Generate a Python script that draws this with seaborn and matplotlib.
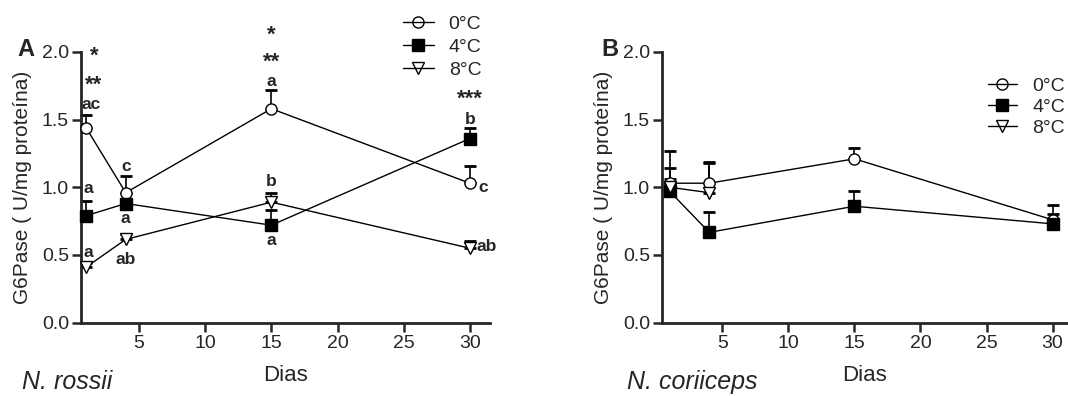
import numpy as np
import pandas as pd
import matplotlib
matplotlib.use("Agg")
import matplotlib.pyplot as plt
from matplotlib.lines import Line2D
import seaborn as sns

# ── Data ──────────────────────────────────────────────────────────────────────
DIAS = [1, 4, 15, 30]
TEMPS = ["0°C", "4°C", "8°C"]

# N. rossii (panel A)
ROSSII_0 = [1.44, 0.96, 1.58, 1.03]
ROSSII_0_ERR = [0.09, 0.12, 0.14, 0.13]
ROSSII_4 = [0.79, 0.88, 0.72, 1.36]
ROSSII_4_ERR = [0.11, 0.02, 0.11, 0.08]
ROSSII_8 = [0.41, 0.615, 0.89, 0.55]
ROSSII_8_ERR = [0.03, 0.04, 0.065, 0.05]

# N. coriiceps (panel B)
CORIICEPS_0 = [1.03, 1.03, 1.21, 0.76]
CORIICEPS_0_ERR = [0.11, 0.16, 0.08, 0.11]
CORIICEPS_4 = [0.97, 0.667, 0.86, 0.73]
CORIICEPS_4_ERR = [0.30, 0.15, 0.11, 0.07]
CORIICEPS_8 = [1.00, 0.96, np.nan, np.nan]
CORIICEPS_8_ERR = [0.06, 0.22, np.nan, np.nan]

# significance letters / asterisks for panel A: (dia, y, text)
LETRAS_A = [
    (1.35, 1.61, "ac"), (1.2, 0.99, "a"), (1.2, 0.52, "a"),
    (4.07, 1.15, "c"), (4.0, 0.77, "a"), (4.0, 0.47, "ab"),
    (15, 1.78, "a"), (15, 1.04, "b"), (15, 0.605, "a"),
    (30, 1.50, "b"), (31.0, 1.00, "c"), (31.3, 0.56, "ab"),
]
ASTER_A = [
    (1.6, 1.97, "*"), (1.6, 1.75, "**"),
    (15, 2.12, "*"), (15, 1.92, "**"),
    (30, 1.65, "***"),
]

MARKERS = {"0°C": "o", "4°C": "s", "8°C": "v"}
FACES = {"0°C": "white", "4°C": "black", "8°C": "white"}


def long_df(vals, errs):
    rows = []
    for temp, v, e in zip(TEMPS, vals, errs):
        for d, y, s in zip(DIAS, v, e):
            rows.append({"dia": d, "g6pase": y, "sem": s, "temp": temp})
    return pd.DataFrame(rows).dropna()


df_a = long_df([ROSSII_0, ROSSII_4, ROSSII_8], [ROSSII_0_ERR, ROSSII_4_ERR, ROSSII_8_ERR])
df_b = long_df([CORIICEPS_0, CORIICEPS_4, CORIICEPS_8],
               [CORIICEPS_0_ERR, CORIICEPS_4_ERR, CORIICEPS_8_ERR])

# ── Style ─────────────────────────────────────────────────────────────────────
sns.set_style("ticks")
plt.rcParams["font.family"] = ["Liberation Sans", "DejaVu Sans"]

fig = plt.figure(figsize=(10.68, 3.96), dpi=100)
ax_a = fig.add_axes([0.0756, 0.1851, 0.383, 0.684])
ax_b = fig.add_axes([0.6196, 0.1851, 0.3795, 0.684])


def draw_panel(ax, df, xlim):
    for temp, grp in df.groupby("temp", sort=False):
        ax.errorbar(grp["dia"], grp["g6pase"], yerr=[np.zeros(len(grp)), grp["sem"]],
                    fmt="none", ecolor="black", elinewidth=1.2, capsize=4,
                    capthick=2, zorder=2, clip_on=False)
        sns.lineplot(data=grp, x="dia", y="g6pase", ax=ax, color="black",
                     lw=1, marker=MARKERS[temp], markersize=8 if temp != "8°C" else 9,
                     markerfacecolor=FACES[temp], markeredgecolor="black",
                     markeredgewidth=1, errorbar=None, zorder=3, clip_on=False)
    ax.set_xlim(*xlim)
    ax.set_ylim(0, 2.0)
    ax.set_xticks([5, 10, 15, 20, 25, 30])
    ax.set_yticks([0, 0.5, 1.0, 1.5, 2.0])
    ax.set_yticklabels(["0.0", "0.5", "1.0", "1.5", "2.0"])
    ax.tick_params(labelsize=14, width=1.8, length=6.5, direction="out", pad=2)
    for sp in ("left", "bottom"):
        ax.spines[sp].set_linewidth(2)
    sns.despine(ax=ax)
    ax.set_xlabel("Dias", fontsize=16, labelpad=10)
    ax.set_ylabel("G6Pase ( U/mg proteína)", fontsize=15)
    ax.yaxis.set_label_coords(-0.12, 0.5)


draw_panel(ax_a, df_a, (0.6, 31.5))
draw_panel(ax_b, df_b, (0.4, 31.1))

for x, y, t in LETRAS_A:
    ax_a.text(x, y, t, fontsize=12.5, fontweight="bold", ha="center", va="center",
              clip_on=False)
for x, y, t in ASTER_A:
    ax_a.text(x, y, t, fontsize=16, fontweight="bold", ha="center", va="center",
              clip_on=False)

# legends
handles = [Line2D([], [], color="black", lw=1, marker=MARKERS[t], markersize=8,
                  markerfacecolor="none" if t != "4°C" else "black",
                  markeredgecolor="black") for t in TEMPS]
ax_a.legend(handles, TEMPS, loc="upper left", bbox_to_anchor=(0.377, 0.962),
            bbox_transform=fig.transFigure, frameon=False, fontsize=14,
            handlelength=1.6, handletextpad=0.77, labelspacing=0.28,
            borderpad=0, borderaxespad=0)
ax_b.legend(handles, TEMPS, loc="upper left", bbox_to_anchor=(0.925, 0.805),
            bbox_transform=fig.transFigure, frameon=False, fontsize=14,
            handlelength=1.5, handletextpad=0.77, labelspacing=0.18,
            borderpad=0, borderaxespad=0)

# panel letters and species names
fig.text(26 / 1068, 1 - 50 / 396, "A", fontsize=17, fontweight="bold",
         ha="center", va="center")
fig.text(610 / 1068, 1 - 50 / 396, "B", fontsize=17, fontweight="bold",
         ha="center", va="center")
fig.text(22 / 1068, 1 - 382 / 396, "N. rossii", fontsize=18, style="italic",
         ha="left", va="center")
fig.text(627 / 1068, 1 - 382 / 396, "N. coriiceps", fontsize=18, style="italic",
         ha="left", va="center")

fig.savefig("out.png", dpi=100)
